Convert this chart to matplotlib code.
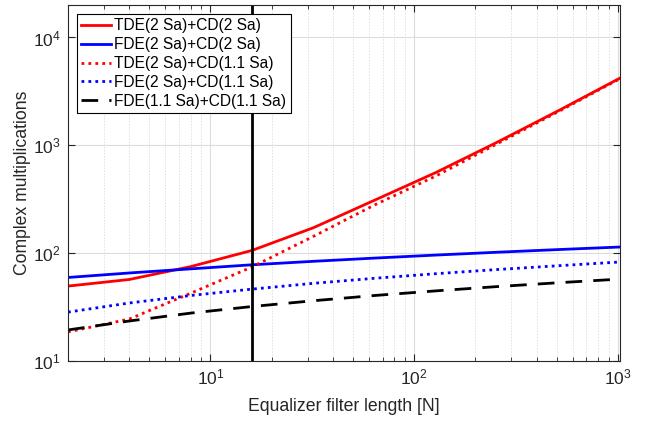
import matplotlib
matplotlib.use("Agg")
import matplotlib.pyplot as plt
from matplotlib.ticker import LogLocator, NullLocator, NullFormatter

plt.rcParams['font.family'] = ['Liberation Sans', 'DejaVu Sans']

N = [2, 4, 8, 16, 32, 64, 128, 256, 512, 1024]
tde2_cd2 = [49.5, 57, 75, 106, 172, 310, 560, 1070, 2100, 4200]
fde2_cd2 = [59.5, 65.5, 71.5, 78, 84, 90, 96, 102, 108, 114]
tde2_cd11 = [18.6, 24.5, 42.5, 74.5, 143, 280, 520, 1035, 2060, 4150]
fde2_cd11 = [28.4, 34.5, 40.5, 46.4, 52.5, 58.5, 64.5, 70.5, 76.5, 82.8]
fde11_cd11 = [19.4, 23.5, 27.8, 32, 36.2, 40.5, 44.7, 49, 53.2, 57.5]
labels = ["TDE(2 Sa)+CD(2 Sa)", "FDE(2 Sa)+CD(2 Sa)", "TDE(2 Sa)+CD(1.1 Sa)",
          "FDE(2 Sa)+CD(1.1 Sa)", "FDE(1.1 Sa)+CD(1.1 Sa)"]
vline_x = 16

fig = plt.figure(figsize=(6.48, 4.21), dpi=100)
ax = fig.add_axes([68/648, 1-361/421, (620-68)/648, (361-5)/421])

ax.plot(N, tde2_cd2, color='#ff0000', lw=2, label=labels[0])
ax.plot(N, fde2_cd2, color='#0000ff', lw=2, label=labels[1])
ax.plot(N, tde2_cd11, color='#ff0000', lw=2, ls=(0, (1, 1.5)), label=labels[2])
ax.plot(N, fde2_cd11, color='#0000ff', lw=2, ls=(0, (1, 1.5)), label=labels[3])
ax.plot(N, fde11_cd11, color='black', lw=2, ls=(0, (6, 4)), label=labels[4])
ax.axvline(vline_x, color='black', lw=2)

ax.set_xscale('log')
ax.set_yscale('log')
ax.set_xlim(2, 1024)
ax.set_ylim(10, 2e4)
ax.xaxis.set_major_locator(LogLocator(base=10, numticks=10))
ax.xaxis.set_minor_locator(LogLocator(base=10, subs=range(2, 10), numticks=20))
ax.xaxis.set_minor_formatter(NullFormatter())
ax.yaxis.set_major_locator(LogLocator(base=10, numticks=10))
ax.yaxis.set_minor_locator(NullLocator())

ax.grid(True, which='major', color='#dcdcdc', lw=0.8)
ax.grid(True, which='minor', axis='x', color='#e0e0e0', lw=0.7, ls=(0, (1.5, 1.5)))
ax.set_axisbelow(True)

ax.tick_params(which='both', direction='in', top=True, right=True, colors='#262626',
               labelsize=12.5)
ax.tick_params(which='major', length=5, pad=5)
ax.tick_params(which='minor', length=3)
for s in ax.spines.values():
    s.set_color('#262626')
    s.set_linewidth(0.8)

ax.set_xlabel("Equalizer filter length [N]", fontsize=12.7, color='#262626', labelpad=7)
ax.set_ylabel("Complex multiplications", fontsize=12.7, color='#262626', labelpad=1.5)

leg = ax.legend(loc='upper left', fontsize=11.2, frameon=True, fancybox=False,
                edgecolor='black', framealpha=1, handlelength=1.9, handletextpad=0.2,
                labelspacing=0.25, borderpad=0.3, borderaxespad=0.55)
leg.get_frame().set_linewidth(0.8)

fig.savefig("out.png", dpi=100)
